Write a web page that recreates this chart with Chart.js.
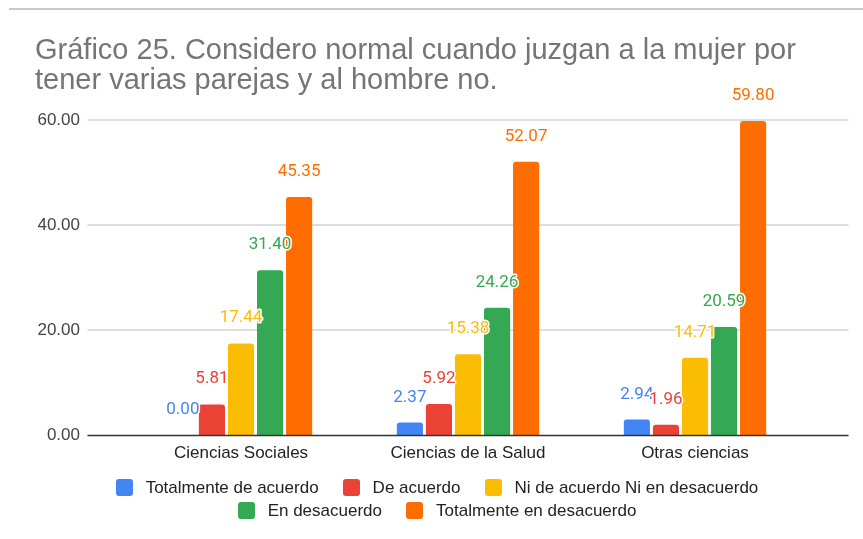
<!DOCTYPE html>
<html>
<head>
<meta charset="utf-8">
<script src="https://cdn.jsdelivr.net/npm/chart.js@4.4.0/dist/chart.umd.min.js"></script>
<style>
    html, body { margin: 0; padding: 0; background: #fff; }
    #wrap { position: relative; width: 863px; height: 539px; overflow: hidden; }
    #topline { position: absolute; left: 9px; right: 0; top: 8px; height: 2px; background: #c8c8c8; }
    #legend {
        position: absolute; left: 72px; width: 730px; top: 479px;
        display: flex; flex-wrap: wrap; justify-content: center; row-gap: 6px;
        font: 17px "Liberation Sans", Arial, sans-serif; color: #222;
    }
    .item { display: flex; align-items: center; margin: 0 12px; height: 17px; }
    .box { width: 17px; height: 17px; border-radius: 3px; margin-right: 13px; }
</style>
</head>
<body>
<div id="wrap">
    <canvas id="chart" width="863" height="539"></canvas>
    <div id="topline"></div>
    <div id="legend"></div>
</div>
<script>
const categories = ['Ciencias Sociales', 'Ciencias de la Salud', 'Otras ciencias'];
const totalmenteDeAcuerdo = [0.00, 2.37, 2.94];
const deAcuerdo = [5.81, 5.92, 1.96];
const niDeAcuerdoNiEnDesacuerdo = [17.44, 15.38, 14.71];
const enDesacuerdo = [31.40, 24.26, 20.59];
const totalmenteEnDesacuerdo = [45.35, 52.07, 59.80];

const seriesNames = ['Totalmente de acuerdo', 'De acuerdo', 'Ni de acuerdo Ni en desacuerdo', 'En desacuerdo', 'Totalmente en desacuerdo'];
const seriesData = [totalmenteDeAcuerdo, deAcuerdo, niDeAcuerdoNiEnDesacuerdo, enDesacuerdo, totalmenteEnDesacuerdo];
const colors = ['#4285F4', '#EA4335', '#FBBC04', '#34A853', '#FF6D01'];

const sansFont = '"Liberation Sans", Arial, sans-serif';

// gridlines stick out 40px on both sides of the plot
const gridPlugin = {
    id: 'gridLines',
    beforeDatasetsDraw(chart) {
        const { ctx, chartArea, scales } = chart;
        ctx.save();
        ctx.strokeStyle = '#dedede';
        ctx.lineWidth = 2;
        scales.y.ticks.forEach(t => {
            if (t.value === 0) return;
            const y = Math.round(scales.y.getPixelForValue(t.value));
            ctx.beginPath();
            ctx.moveTo(chartArea.left - 40, y);
            ctx.lineTo(chartArea.right + 40, y);
            ctx.stroke();
        });
        ctx.restore();
    },
    afterDatasetsDraw(chart) {
        const { ctx, chartArea, scales } = chart;
        const y = Math.round(scales.y.getPixelForValue(0)) + 0.5;
        ctx.save();
        ctx.strokeStyle = '#333';
        ctx.lineWidth = 1.5;
        ctx.beginPath();
        ctx.moveTo(chartArea.left - 40, y);
        ctx.lineTo(chartArea.right + 40, y);
        ctx.stroke();
        ctx.restore();
    }
};

const valueLabels = {
    id: 'valueLabels',
    afterDatasetsDraw(chart) {
        const ctx = chart.ctx;
        ctx.save();
        ctx.font = '17px Roboto';
        ctx.textAlign = 'center';
        ctx.textBaseline = 'alphabetic';
        ctx.lineJoin = 'round';
        chart.data.datasets.forEach((ds, i) => {
            chart.getDatasetMeta(i).data.forEach((bar, j) => {
                const txt = ds.data[j].toFixed(2);
                ctx.lineWidth = 3;
                ctx.strokeStyle = '#fff';
                ctx.strokeText(txt, bar.x, bar.y - 21);
                ctx.fillStyle = ds.backgroundColor;
                ctx.fillText(txt, bar.x, bar.y - 21);
            });
        });
        ctx.restore();
    }
};

const chart = new Chart(document.getElementById('chart').getContext('2d'), {
    type: 'bar',
    data: {
        labels: categories,
        datasets: seriesData.map((d, i) => ({
            label: seriesNames[i],
            data: d,
            backgroundColor: colors[i],
            barPercentage: 0.9,
            categoryPercentage: 0.64,
            borderRadius: { topLeft: 3, topRight: 3 },
            borderSkipped: 'bottom'
        }))
    },
    options: {
        responsive: false,
        animation: false,
        layout: { padding: { left: 35, right: 54.5, top: 0, bottom: 74 } },
        plugins: {
            legend: { display: false },
            tooltip: { enabled: false },
            title: {
                display: true,
                text: ['Gráfico 25. Considero normal cuando juzgan a la mujer por', 'tener varias parejas y al hombre no.'],
                align: 'start',
                color: '#757575',
                font: { family: sansFont, size: 29, weight: 'normal', lineHeight: '30px' },
                padding: { top: 36, bottom: 24 }
            }
        },
        scales: {
            x: {
                grid: { display: false, drawTicks: false },
                border: { display: false },
                ticks: { color: '#222', font: { family: sansFont, size: 17 }, padding: 8 },
                afterFit: s => { s.height = 30; }
            },
            y: {
                min: 0,
                max: 60,
                grid: { display: false, drawTicks: false },
                border: { display: false },
                ticks: {
                    stepSize: 20,
                    color: '#444',
                    font: { family: sansFont, size: 17 },
                    padding: 47.5,
                    callback: v => v.toFixed(2)
                },
                afterFit: s => { s.width = 92.5; }
            }
        }
    },
    plugins: [gridPlugin, valueLabels]
});

// legend in html, two rows like the original
const legend = document.getElementById('legend');
seriesNames.forEach((name, i) => {
    legend.innerHTML += `<div class="item"><span class="box" style="background:${colors[i]}"></span>${name}</div>`;
});
</script>
</body>
</html>
